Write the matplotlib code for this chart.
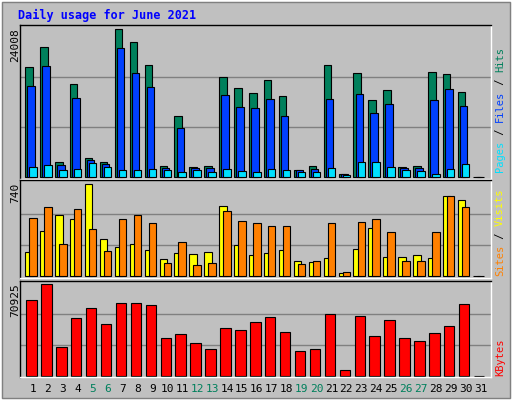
import matplotlib
matplotlib.use("Agg")
import matplotlib.pyplot as plt
from matplotlib.patches import Rectangle

days = list(range(1, 32))
hits = [17816,21075,2499,15046,3042,2390,24008,21890,18142,1847,9994,1575,1738,16186,14394,13580,15698,13091,1195,1738,18142,543,16838,12439,14068,1575,1738,17002,16675,13742,0]
files = [14720,17979,2010,12765,2825,2173,20912,16838,14557,1521,8039,1412,1521,13253,11298,11135,12602,9994,1195,1358,12602,489,13417,10483,11787,1412,1412,12439,14231,11461,0]
pages = [1684,2010,1195,1358,2336,1684,1195,1195,1358,1195,869,1195,869,1358,1032,869,1358,1195,869,869,1521,380,2499,2499,1684,1195,1032,543,1358,2173,0]
visits = [193,362,491,458,740,298,233,257,209,137,185,177,193,563,249,169,185,209,121,113,145,24,217,386,153,153,169,145,643,611,0]
sites = [466,555,257,539,378,201,458,491,426,105,273,88,105,523,442,426,402,402,97,121,426,32,434,458,354,121,121,354,643,555,0]
kbytes = [58500,70925,22000,44522,52288,39863,56170,56170,54617,28991,32097,25108,20449,36756,35203,41416,45299,33650,18896,20449,47628,4142,46075,30544,42969,28991,26662,32874,38310,55394,0]
weekend = [5,6,12,13,19,20,26,27]
title = "Daily usage for June 2021"

W, H = 512, 400
fig = plt.figure(figsize=(W/100, H/100), dpi=100, facecolor="#C0C0C0")
mono = "DejaVu Sans Mono"

fig.patches.append(Rectangle((0, 0), 1, 1, transform=fig.transFigure, fill=False, edgecolor="#FFFFFF", lw=2))
fig.patches.append(Rectangle((2/W, 2/H), 1-4/W, 1-4/H, transform=fig.transFigure, fill=False, edgecolor="#808080", lw=1))

X0, X1 = 20, 491
day1_px, step = 33, 14.92
xlim = (1 - (day1_px - X0)/step, 1 + (X1 - day1_px)/step)

def make_ax(top, bottom, base, maxpx, vmax):
    ax = fig.add_axes([X0/W, 1 - bottom/H, (X1-X0)/W, (bottom-top)/H])
    scale = vmax / (base - maxpx)
    ax.set_ylim(-(bottom - base)*scale, (base - top)*scale)
    ax.set_xlim(*xlim)
    ax.set_facecolor("#C0C0C0")
    ax.set_xticks([]); ax.set_yticks([])
    for s in ax.spines.values():
        s.set_color("black"); s.set_linewidth(1)
    ax.spines["bottom"].set_color("white"); ax.spines["right"].set_color("white")
    for f in (1/3, 2/3):
        ax.axhline(vmax*f*1.02, color="#808080", lw=1, zorder=0)
    return ax

ax1 = make_ax(25, 179, 177, 29.3, max(hits))
ax2 = make_ax(180, 278, 276, 184.3, max(visits))
ax3 = make_ax(281, 377, 375.7, 284.3, max(kbytes))

kw = dict(edgecolor="black", linewidth=0.8, align="edge")
w = 0.5
ax1.bar([d - 0.52 for d in days], hits, w, color="#00805C", **kw)
ax1.bar([d - 0.38 for d in days], files, w, color="#0040FF", **kw)
ax1.bar([d - 0.25 for d in days], pages, w, color="#00E0FF", **kw)
ax2.bar([d - 0.52 for d in days], visits, w, color="#FFFF00", **kw)
ax2.bar([d - 0.25 for d in days], sites, w, color="#FF8000", **kw)
ax3.bar([d - 0.45 for d in days], kbytes, 0.7, color="#FF0000", **kw)

fig.text(18/W, 1 - 15/H, title, color="#0000FF", fontsize=8.5, fontweight="bold", family=mono, va="center")

for ypx, s in ((28, str(max(hits))), (183, str(max(visits))), (283, str(max(kbytes)))):
    fig.text(15/W, 1 - ypx/H, s, rotation=90, ha="center", va="top", fontsize=8, family=mono, color="black")

fig.canvas.draw()
renderer = fig.canvas.get_renderer()

def side(parts, ybottom):
    y = ybottom
    for txt, col in parts:
        t = fig.text(500/W, 1 - y/H, txt, rotation=90, ha="center", va="bottom", fontsize=7.5, family=mono, color=col)
        y -= t.get_window_extent(renderer).height
side([("Pages", "#00E0FF"), (" / ", "#000000"), ("Files", "#0040FF"), (" / ", "#000000"), ("Hits", "#00805C")], 172)
side([("Sites", "#FF8000"), (" / ", "#000000"), ("Visits", "#FFFF00")], 276)
side([("KBytes", "#FF0000")], 376)

for d in days:
    xpx = day1_px + step*(d-1)
    fig.text(xpx/W, 1 - 389/H, str(d), ha="center", va="center", fontsize=8, family=mono,
             color="#00805C" if d in weekend else "black")

fig.savefig("out.png", dpi=100, facecolor=fig.get_facecolor())
